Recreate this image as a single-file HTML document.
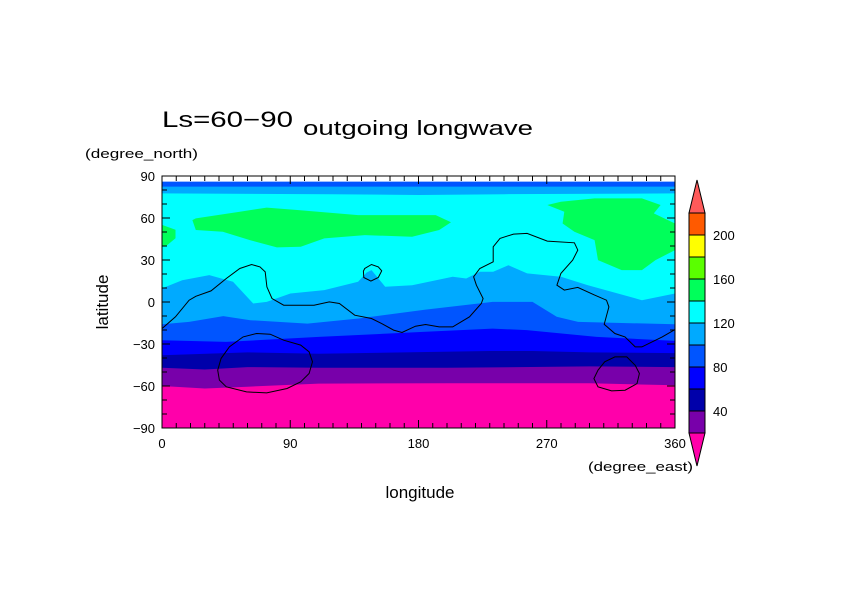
<!DOCTYPE html>
<html><head><meta charset="utf-8"><style>
html,body{margin:0;padding:0;background:#fff;}
svg{display:block;font-family:"Liberation Sans",sans-serif;}
</style></head><body>
<svg id="chart" width="842" height="595" viewBox="0 0 842 595">
<rect width="842" height="595" fill="#fff"/>
<defs><clipPath id="pc"><rect x="162" y="176" width="513" height="252"/></clipPath></defs>
<g id="field" clip-path="url(#pc)"></g>
<g id="lines" clip-path="url(#pc)"></g>
<rect x="162" y="176" width="513" height="252" fill="none" stroke="#000" stroke-width="1"/>
<g id="ticks"></g>
<text x="162" y="127" font-size="22" textLength="131" lengthAdjust="spacingAndGlyphs">Ls=60−90</text>
<text x="303" y="135" font-size="20" textLength="230" lengthAdjust="spacingAndGlyphs">outgoing longwave</text>
<text x="85" y="158" font-size="13" textLength="113" lengthAdjust="spacingAndGlyphs">(degree_north)</text>
<text x="588" y="471" font-size="13" textLength="105" lengthAdjust="spacingAndGlyphs">(degree_east)</text>
<text x="420" y="498" font-size="17" text-anchor="middle">longitude</text>
<text transform="translate(108,302) rotate(-90)" font-size="17" text-anchor="middle">latitude</text>
<g id="cbar"></g>
</svg>
<script>
const NS="http://www.w3.org/2000/svg";
const X0=162,X1=675,Y0=176,Y1=428;
const xs=lon=>X0+(lon/360)*(X1-X0);
const ys=lat=>Y0+((90-lat)/180)*(Y1-Y0);
function mk(tag,attrs,parent){const e=document.createElementNS(NS,tag);for(const k in attrs)e.setAttribute(k,attrs[k]);parent.appendChild(e);return e;}

// band boundaries (lon, lat)
const b0Lon=[0,30,60,110,200,300,360], b0Lat=[-60,-61.8,-60.5,-58.3,-58,-58,-59.5];
const b20Lon=[0,30,60,110,200,300,360], b20Lat=[-47,-48.2,-46.5,-47,-47,-46,-46.5];
const b40Lon=[0,60,110,230,260,300,360], b40Lat=[-38,-36,-37,-35,-35,-36,-36.5];
const b60Lon=[0,45,110,185,232,256,305,360], b60Lat=[-27.3,-28.5,-24.9,-21.3,-19,-20.1,-24.9,-27.8];
const b80Lon=[0,19,43,62,102,138,185,232,260,277,292,360], b80Lat=[-15.9,-14.2,-10.1,-13,-15.4,-11.8,-5.4,0.1,0.1,-10.6,-14.2,-15.9];
const b100Lon=[0,14.2,33.2,49.8,64,73.5,90.1,113.9,137.6,143.5,147,156.6,175.5,204,213.5,223,232.4,243.1,256.2,279.9,298.9,336.8,360];
const b100Lat=[9.7,15.6,19.2,14.4,-1.1,0.1,6.1,8.5,14.4,21,22.8,10.9,12,18,16.8,21.6,21.6,26.3,20.4,18,12,1.3,6.1];
const t100Lon=[0,120,180,240,360], t100Lat=[77.6,77,76.4,77,77.6];
const t80Lon=[0,360], t80Lat=[82.4,82.4];
const tNoLon=[0,360], tNoLat=[86,86];
const g1Lon=[21.3,23.7,42.7,61.7,80.6,97.3,113.9,142.3,175.5,194.5,202.8,192.1,137.6,94.9,73.5,54.6,23.7];
const g1Lat=[58.5,51.4,50.2,44.2,39,39.5,45.4,47.8,46.6,51.4,56.9,62.1,62.1,65.7,67.4,64.5,59.7];
const g2Lon=[270.4,282.3,281.1,289.4,303.6,306,322.6,336.8,346.3,360,360,345.1,349.9,336.8,303.6,279.9];
const g2Lat=[69.3,64.5,56.1,50.2,44.2,29.9,22.8,22.8,29.9,37.1,56.1,63.3,69.3,74,74,71.6];
const g3Lon=[0,9.5,9.5,2.4,0], g3Lat=[55.1,51.6,45.6,39.6,39.6];

// contour lines
const c1Lon=[0,9.5,19,23.7,34.4,45.1,54.6,62.9,68.8,72.4,73.6,77.2,85.4,106.7,117.4,124.5,135.2,147,154.2,162.5,168.4,177.9,185,194.5,204,215.8,224.1,225.3,220.6,218.7,223,232.4,232.4,237.2,246.7,256.2,270.4,289.4,291.8,288.2,279.9,277.1,282.3,291.8,303.6,311.9,313.6,310.3,317.8,324.9,332.1,336.8,351,360];
const c1Lat=[-19,-10.6,1.3,4.1,7.9,16.8,23.9,26.8,25.1,21.5,10.8,2.5,-2.3,-2.3,0.1,-1.1,-9.4,-11.8,-15.4,-20.1,-21.8,-17.3,-16.1,-17.8,-17.8,-10.6,-1.1,2.5,12,18,23.9,28.7,39.4,45.4,48.5,49,43.5,42.3,37.1,29.9,20.4,12,8.5,10.4,4.9,1.3,-3.5,-15.9,-22.5,-24.9,-32.1,-32.1,-24.9,-19.7];
const c2Lon=[142.3,147,151.8,154.2,151.8,146.6,141.6,141.3], c2Lat=[24,26.8,25.1,22.3,17.5,14.9,17.5,22.1];
const c3Lon=[66.4,75.9,85.4,97.3,103.2,105.6,103.2,97.3,87.8,73.5,59.3,45.1,40.3,39.1,41.5,47.4,56.9];
const c3Lat=[-22.5,-23,-27.3,-30.8,-35.6,-42.7,-51.1,-57,-61.8,-64.9,-64.2,-60.6,-55.8,-48.7,-40.3,-31.9,-24.9];
const c4Lon=[317.8,326.2,332.1,335,333.3,325,315.5,306,303.1,306,310.7];
const c4Lat=[-39.2,-39.2,-45.2,-51.1,-58.3,-63,-63.5,-60.6,-54.7,-48.7,-42.7];

// colorbar
const cbLevels=[220,200,180,160,140,120,100,80,60,40,20];
const cbColors=["#ff5a00","#ffff00","#5aff00","#00ff5a","#00ffff","#00aaff","#0055ff","#0000ff","#0000aa","#7800aa"];
const cbLabels=[200,160,120,80,40];
const xTicks=[0,90,180,270,360];
const yTicks=[90,60,30,0,-30,-60,-90];

const field=document.getElementById('field');
function pts(lons,lats){return lons.map((l,i)=>xs(l).toFixed(1)+','+ys(lats[i]).toFixed(1)).join(' ');}
function below(lons,lats,color,name){
  const p=mk('polygon',{points:pts(lons,lats)+' '+xs(360)+','+(Y1+5)+' '+xs(0)+','+(Y1+5),fill:color},field);
  
  
}
function above(lons,lats,color,name){
  const p=mk('polygon',{points:pts(lons,lats)+' '+xs(360)+','+(Y0-5)+' '+xs(0)+','+(Y0-5),fill:color},field);
  
  
}
const bg=mk('rect',{x:X0,y:Y0,width:X1-X0,height:Y1-Y0,fill:'#00ffff'},field);


below(b100Lon,b100Lat,'#00aaff','band-100-120');
below(b80Lon,b80Lat,'#0055ff','band-80-100');
below(b60Lon,b60Lat,'#0000ff','band-60-80');
below(b40Lon,b40Lat,'#0000aa','band-40-60');
below(b20Lon,b20Lat,'#7800aa','band-20-40');
below(b0Lon,b0Lat,'#ff00aa','band-below-20');
above(t100Lon,t100Lat,'#00aaff','polar-band-100-120');
above(t80Lon,t80Lat,'#0055ff','polar-band-80-100');
above(tNoLon,tNoLat,'#ffffff','polar-no-data');
[[g1Lon,g1Lat,'green-region-west'],[g2Lon,g2Lat,'green-region-east'],[g3Lon,g3Lat,'green-region-edge']].forEach(g=>{
  const p=mk('polygon',{points:pts(g[0],g[1]),fill:'#00ff5a'},field);
  
  
});

const lines=document.getElementById('lines');
[[c1Lon,c1Lat,'polyline','topography-contour-main'],[c2Lon,c2Lat,'polygon','topography-contour-small'],[c3Lon,c3Lat,'polygon','topography-contour-hellas'],[c4Lon,c4Lat,'polygon','topography-contour-argyre']].forEach(c=>{
  const p=mk(c[2],{points:pts(c[0],c[1]),fill:'none',stroke:'#000','stroke-width':1},lines);
  
  
});

const ticks=document.getElementById('ticks');
for(let lon=0;lon<=360;lon+=10){
  const L=(lon%90===0)?8:5;
  mk('line',{x1:xs(lon),x2:xs(lon),y1:Y1,y2:Y1-L,stroke:'#000'},ticks);
  mk('line',{x1:xs(lon),x2:xs(lon),y1:Y0,y2:Y0+L,stroke:'#000'},ticks);
}
for(let lat=-90;lat<=90;lat+=10){
  const L=(lat%30===0)?8:5;
  mk('line',{x1:X0,x2:X0+L,y1:ys(lat),y2:ys(lat),stroke:'#000'},ticks);
  mk('line',{x1:X1,x2:X1-L,y1:ys(lat),y2:ys(lat),stroke:'#000'},ticks);
}
xTicks.forEach(v=>{
  const t=mk('text',{x:xs(v),y:Y1+20,'font-size':13,'text-anchor':'middle'},ticks);
  t.textContent=v;
  
  
});
yTicks.forEach(v=>{
  const t=mk('text',{x:X0-7,y:ys(v)+5,'font-size':13,'text-anchor':'end'},ticks);
  t.textContent=(v<0?'−'+(-v):v);
  
  
});

const cb=document.getElementById('cbar');
const CX0=689,CX1=705,CT=213,CB=433;
const cy=v=>CT+(cbLevels[0]-v)/(cbLevels[0]-cbLevels[cbLevels.length-1])*(CB-CT);
const tri1=mk('polygon',{points:`${CX0},${CT} ${CX1},${CT} ${(CX0+CX1)/2},${CT-33}`,fill:'#ff5a5a',stroke:'#000'},cb);


const tri2=mk('polygon',{points:`${CX0},${CB} ${CX1},${CB} ${(CX0+CX1)/2},${CB+33}`,fill:'#ff00aa',stroke:'#000'},cb);


cbColors.forEach((c,i)=>{
  const r=mk('rect',{x:CX0,y:cy(cbLevels[i]),width:CX1-CX0,height:cy(cbLevels[i+1])-cy(cbLevels[i]),fill:c,stroke:'#000'},cb);
  
  
});
cbLabels.forEach(v=>{
  const t=mk('text',{x:713,y:cy(v)+5,'font-size':13},cb);
  t.textContent=v;
  
  
});
</script>
</body></html>
